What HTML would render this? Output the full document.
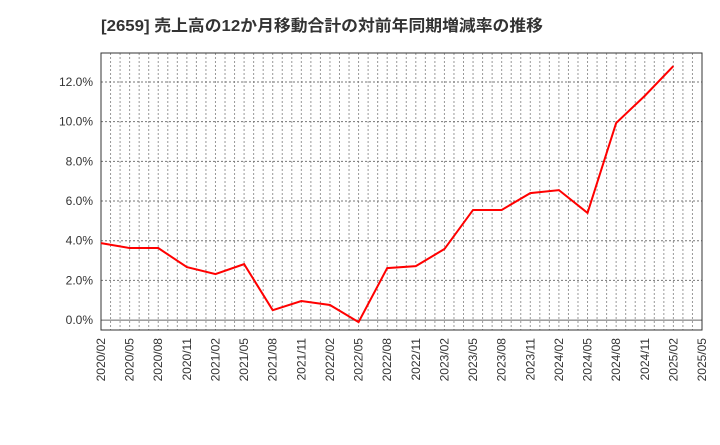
<!DOCTYPE html>
<html><head><meta charset="utf-8"><style>
body{margin:0;background:#fff;font-family:"Liberation Sans","Noto Sans CJK JP",sans-serif}
svg text{font-family:"Liberation Sans","Noto Sans CJK JP",sans-serif}
</style></head><body>
<svg id="c" width="720" height="440">
<text x="101" y="31" font-size="16" font-weight="bold" fill="#333" textLength="442" lengthAdjust="spacingAndGlyphs">[2659]  売上高の12か月移動合計の対前年同期増減率の推移</text>
</svg>
<script>
const categories=["2020/02","2020/05","2020/08","2020/11","2021/02","2021/05","2021/08","2021/11","2022/02","2022/05","2022/08","2022/11","2023/02","2023/05","2023/08","2023/11","2024/02","2024/05","2024/08","2024/11","2025/02","2025/05"];
const values=[3.88,3.63,3.63,2.67,2.32,2.82,0.5,0.96,0.76,-0.1,2.62,2.72,3.58,5.55,5.55,6.4,6.55,5.4,9.93,11.3,12.8];
const yTicks=[0,2,4,6,8,10,12];
const NS="http://www.w3.org/2000/svg",svg=document.getElementById('c');
const L=101,R=702,T=53,B=330,yMin=-0.5,yMax=13.46;
const n=categories.length-1;
const x=i=>L+(R-L)*i/n;
const y=v=>B-(v-yMin)/(yMax-yMin)*(B-T);
function mk(t,a){const e=document.createElementNS(NS,t);for(const k in a)e.setAttribute(k,a[k]);svg.appendChild(e);return e;}
for(let m=1;m<n*3;m++){const xx=L+(R-L)*m/(n*3);
const g=mk('line',{x1:xx,x2:xx,y1:T,y2:B,stroke:'#999','stroke-dasharray':'2,2','stroke-width':1});

}
yTicks.forEach(v=>{const yy=y(v);
const g=mk('line',{x1:L,x2:R,y1:yy,y2:yy,stroke:v===0?'#666':'#777','stroke-dasharray':v===0?'none':'2,2','stroke-width':1});


const t=mk('text',{x:L-8,y:yy+4,'text-anchor':'end','font-size':12,fill:'#333'});t.textContent=v.toFixed(1)+'%';

});
const fr=mk('rect',{x:L,y:T,width:R-L,height:B-T,fill:'none',stroke:'#333','stroke-width':1});


categories.forEach((c,i)=>{const t=mk('text',{transform:`translate(${x(i)+4},${B+8}) rotate(-90)`,'text-anchor':'end','font-size':12,fill:'#333'});t.textContent=c;

});
const p=mk('polyline',{points:values.map((v,i)=>x(i)+','+y(v)).join(' '),fill:'none',stroke:'#f00','stroke-width':2});


</script>
</body></html>
